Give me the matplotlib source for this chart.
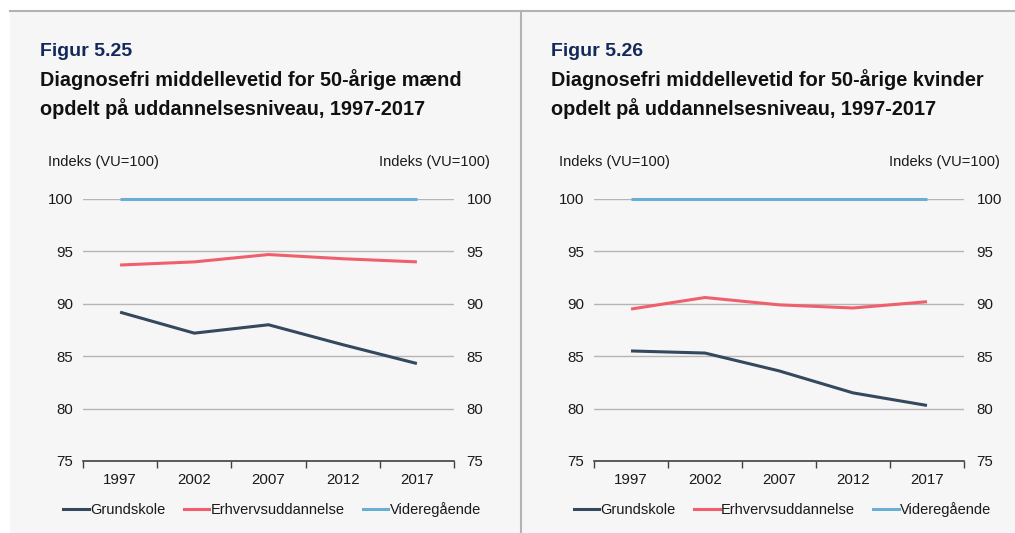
import matplotlib
matplotlib.use("Agg")
import matplotlib.pyplot as plt
from matplotlib.patches import Rectangle
from matplotlib.lines import Line2D

plt.rcParams['font.family'] = ['Liberation Sans', 'DejaVu Sans']

years = ["1997", "2002", "2007", "2012", "2017"]
series_names = ["Grundskole", "Erhvervsuddannelse", "Videregående"]
colors = ["#34495e", "#f0606c", "#6aaed6"]

men_grundskole = [89.2, 87.2, 88.0, 86.1, 84.3]
men_erhverv = [93.7, 94.0, 94.7, 94.3, 94.0]
men_videre = [100, 100, 100, 100, 100]

women_grundskole = [85.5, 85.3, 83.6, 81.5, 80.3]
women_erhverv = [89.5, 90.6, 89.9, 89.6, 90.2]
women_videre = [100, 100, 100, 100, 100]

yticks = [75, 80, 85, 90, 95, 100]
fig_labels = ["Figur 5.25", "Figur 5.26"]
titles = ["Diagnosefri middellevetid for 50-årige mænd\nopdelt på uddannelsesniveau, 1997-2017",
          "Diagnosefri middellevetid for 50-årige kvinder\nopdelt på uddannelsesniveau, 1997-2017"]
unit_label = "Indeks (VU=100)"

W, H = 1015, 533
fig = plt.figure(figsize=(W / 100, H / 100), dpi=100)
fig.patch.set_facecolor("white")

def fx(px):
    return px / W

def fy(py):
    return 1 - py / H

bg = "#f6f6f6"
fig.patches.append(Rectangle((fx(10), 0), 1 - fx(10), fy(10.5), transform=fig.transFigure,
                             facecolor=bg, edgecolor="none", zorder=-10))
fig.lines.append(Line2D([fx(10), 1], [fy(10.5), fy(10.5)], transform=fig.transFigure,
                        color="#b3b3b3", lw=1.5, zorder=-5))
fig.lines.append(Line2D([fx(520.5), fx(520.5)], [0, fy(10.5)], transform=fig.transFigure,
                        color="#b3b3b3", lw=1.5, zorder=-5))

panels = [
    dict(data=[men_grundskole, men_erhverv, men_videre], ax_x0=83, ax_x1=454, tx=40,
         ind_l=48, ind_r=490, leg_c=272),
    dict(data=[women_grundskole, women_erhverv, women_videre], ax_x0=594, ax_x1=964, tx=551,
         ind_l=559, ind_r=1000, leg_c=782.5),
]

top_px, bot_px = 199, 461
for i, p in enumerate(panels):
    ax = fig.add_axes([fx(p["ax_x0"]), fy(bot_px), fx(p["ax_x1"] - p["ax_x0"]),
                       (bot_px - top_px) / H])
    ax.set_facecolor("none")
    x = list(range(len(years)))
    for vals, c, name in zip(p["data"], colors, series_names):
        ax.plot(x, vals, color=c, lw=2.2, label=name, zorder=3, solid_capstyle="butt",
                clip_on=False)
    ax.set_xlim(-0.5, len(years) - 0.5)
    ax.set_ylim(75, 100)
    ax.set_yticks(yticks)
    ax.yaxis.grid(True, color="#b5b5b5", lw=1)
    ax.set_axisbelow(True)
    for s in ["top", "left", "right"]:
        ax.spines[s].set_visible(False)
    ax.spines["bottom"].set_color("#404040")
    ax.spines["bottom"].set_linewidth(1.2)
    ax.spines["bottom"].set_zorder(4)
    ax.tick_params(axis="y", length=0, labelsize=10.8, labelcolor="#1a1a1a", pad=7)
    ax.set_xticks(x)
    ax.set_xticklabels(years)
    ax.set_xticks([k - 0.5 for k in range(len(years) + 1)], minor=True)
    ax.tick_params(axis="x", which="major", length=0, labelsize=10.8, labelcolor="#1a1a1a", pad=9)
    ax.tick_params(axis="x", which="minor", length=5, width=1, color="#404040", direction="out")

    axr = ax.twinx()
    axr.set_ylim(75, 100)
    axr.set_yticks(yticks)
    for s in ["top", "left", "right", "bottom"]:
        axr.spines[s].set_visible(False)
    axr.tick_params(axis="y", length=0, labelsize=10.8, labelcolor="#1a1a1a", pad=9)

    fig.text(fx(p["tx"]), fy(51), fig_labels[i], fontsize=14, fontweight="bold",
             color="#13295b", va="center", ha="left")
    fig.text(fx(p["tx"]), fy(94), titles[i], fontsize=14.3, fontweight="bold",
             color="#111111", va="center", ha="left", linespacing=1.45)
    fig.text(fx(p["ind_l"]), fy(162), unit_label, fontsize=10.5, color="#1a1a1a",
             va="center", ha="left")
    fig.text(fx(p["ind_r"]), fy(162), unit_label, fontsize=10.5, color="#1a1a1a",
             va="center", ha="right")

    handles = [Line2D([], [], color=c, lw=2.2) for c in colors]
    leg = fig.legend(handles, series_names, loc="center",
                     bbox_to_anchor=(fx(p["leg_c"]), fy(510)),
                     ncol=3, frameon=False, fontsize=10.5, handlelength=1.75,
                     handletextpad=0.1, columnspacing=1.25, borderpad=0, borderaxespad=0)
    for t in leg.get_texts():
        t.set_color("#1a1a1a")

fig.savefig("out.png", dpi=100, facecolor=fig.get_facecolor())
